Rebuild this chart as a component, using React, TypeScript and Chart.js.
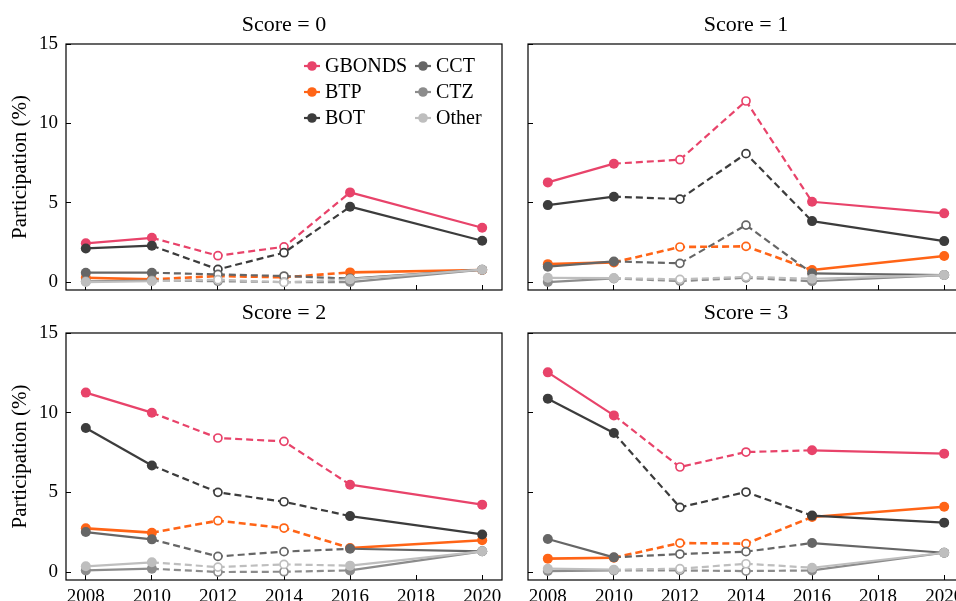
import React, { useEffect, useRef } from "react";
import { Chart, registerables } from "chart.js";

Chart.register(...registerables);

// ---------- data ----------
const years = [2008, 2010, 2012, 2014, 2016, 2020];
const xTicks = [2008, 2010, 2012, 2014, 2016, 2018, 2020];
const yTicks = [0, 5, 10, 15];
const hollowYears = [2012, 2014];
const dashedFrom = 2010;
const dashedTo = 2016;

const seriesNames = ["GBONDS", "BTP", "BOT", "CCT", "CTZ", "Other"];
const seriesColors = ["#E8436A", "#FF6416", "#3C3C3C", "#666666", "#8C8C8C", "#BEBEBE"];
const seriesWidths = [2.2, 2.6, 2.2, 2.2, 2.2, 2.2];

const panelTitles = ["Score = 0", "Score = 1", "Score = 2", "Score = 3"];
const yAxisLabel = "Participation (%)";

// Score = 0
const s0GBONDS = [2.44, 2.79, 1.66, 2.22, 5.65, 3.42];
const s0BTP = [0.27, 0.17, 0.38, 0.3, 0.61, 0.76];
const s0BOT = [2.12, 2.29, 0.8, 1.85, 4.75, 2.6];
const s0CCT = [0.59, 0.59, 0.48, 0.38, 0.22, 0.78];
const s0CTZ = [0.05, 0.1, 0.05, 0.0, 0.0, 0.78];
const s0Other = [0.0, 0.05, 0.15, -0.02, 0.18, 0.78];

// Score = 1
const s1GBONDS = [6.28, 7.46, 7.71, 11.41, 5.06, 4.33];
const s1BTP = [1.13, 1.24, 2.21, 2.25, 0.76, 1.64];
const s1BOT = [4.85, 5.38, 5.23, 8.09, 3.84, 2.58];
const s1CCT = [0.97, 1.3, 1.18, 3.59, 0.55, 0.44];
const s1CTZ = [0.0, 0.23, 0.06, 0.27, 0.05, 0.44];
const s1Other = [0.27, 0.25, 0.17, 0.33, 0.21, 0.44];

// Score = 2
const s2GBONDS = [11.26, 10.0, 8.41, 8.2, 5.48, 4.23];
const s2BTP = [2.74, 2.47, 3.22, 2.76, 1.51, 1.99];
const s2BOT = [9.04, 6.69, 5.0, 4.41, 3.51, 2.36];
const s2CCT = [2.51, 2.05, 0.98, 1.28, 1.46, 1.3];
const s2CTZ = [0.1, 0.21, 0.0, 0.02, 0.1, 1.3];
const s2Other = [0.36, 0.61, 0.31, 0.48, 0.4, 1.3];

// Score = 3
const s3GBONDS = [12.53, 9.83, 6.59, 7.53, 7.64, 7.43];
const s3BTP = [0.84, 0.9, 1.82, 1.78, 3.45, 4.1];
const s3BOT = [10.88, 8.72, 4.06, 5.02, 3.54, 3.1];
const s3CCT = [2.07, 0.92, 1.13, 1.28, 1.82, 1.21];
const s3CTZ = [0.06, 0.1, 0.1, 0.06, 0.1, 1.21];
const s3Other = [0.21, 0.15, 0.21, 0.52, 0.27, 1.21];

const panelValues = [
  [s0GBONDS, s0BTP, s0BOT, s0CCT, s0CTZ, s0Other],
  [s1GBONDS, s1BTP, s1BOT, s1CCT, s1CTZ, s1Other],
  [s2GBONDS, s2BTP, s2BOT, s2CCT, s2CTZ, s2Other],
  [s3GBONDS, s3BTP, s3BOT, s3CCT, s3CTZ, s3Other],
];

// ---------- layout ----------
const CANVAS_W = 1000;
const CANVAS_H = 640;
const FONT = "'Liberation Serif', 'DejaVu Serif', serif";
const TITLE_SIZE = 22;
const TITLE_LH = TITLE_SIZE * 1.2;
const panelBoxes = [
  { L: 66, T: 44, R: 502, B: 290, titleY: 25 },
  { L: 528, T: 44, R: 964, B: 290, titleY: 25 },
  { L: 66, T: 333, R: 502, B: 580, titleY: 313 },
  { L: 528, T: 333, R: 964, B: 580, titleY: 313 },
];
const X_AXIS_H = 30;

const framePlugin = {
  id: "frame",
  afterDraw(chart: any) {
    const { ctx, chartArea: a } = chart;
    ctx.save();
    ctx.strokeStyle = "#000";
    ctx.lineWidth = 1.2;
    ctx.strokeRect(a.left, a.top, a.right - a.left, a.bottom - a.top);
    ctx.restore();
  },
};

const legendPlugin = {
  id: "gridLegend",
  afterDraw(chart: any) {
    const { ctx, chartArea: a } = chart;
    const colX = [a.right - 190, a.right - 79];
    const rowY = [a.top + 22, a.top + 48, a.top + 74];
    ctx.save();
    ctx.font = `20px ${FONT}`;
    ctx.textBaseline = "middle";
    ctx.textAlign = "left";
    chart.data.datasets.forEach((ds: any, i: number) => {
      const cx = colX[Math.floor(i / 3)];
      const cy = rowY[i % 3];
      ctx.strokeStyle = ds.borderColor;
      ctx.lineWidth = 2.2;
      ctx.beginPath();
      ctx.moveTo(cx - 8, cy);
      ctx.lineTo(cx + 8, cy);
      ctx.stroke();
      ctx.fillStyle = ds.borderColor;
      ctx.beginPath();
      ctx.arc(cx, cy, 4.8, 0, Math.PI * 2);
      ctx.fill();
      ctx.fillStyle = "#000";
      ctx.fillText(ds.label, cx + 13, cy + 1);
    });
    ctx.restore();
  },
};

function buildConfig(p: number): any {
  const box = panelBoxes[p];
  const isLeft = p % 2 === 0;
  const isBottom = p >= 2;
  const datasets = seriesNames.map((name, i) => {
    const color = seriesColors[i];
    const hollow = years.map((y) => hollowYears.includes(y));
    return {
      label: name,
      data: years.map((x, k) => ({ x, y: panelValues[p][i][k] })),
      borderColor: color,
      backgroundColor: color,
      borderWidth: seriesWidths[i],
      tension: 0,
      order: seriesNames.length - i,
      pointRadius: hollow.map((h) => (h ? 4.0 : 5.0)),
      pointBorderWidth: hollow.map((h) => (h ? 1.7 : 0)),
      pointBackgroundColor: hollow.map((h) => (h ? "#ffffff" : color)),
      pointBorderColor: color,
      segment: {
        borderDash: (ctx: any) =>
          ctx.p0.parsed.x >= dashedFrom && ctx.p1.parsed.x <= dashedTo ? [7, 4] : undefined,
      },
    };
  });

  const titlePadTop = 4;
  const titleTop = box.titleY - TITLE_LH / 2 - titlePadTop;
  const titlePadBottom = box.T - box.titleY - TITLE_LH / 2;

  return {
    type: "line",
    data: { datasets },
    plugins: p === 0 ? [framePlugin, legendPlugin] : [framePlugin],
    options: {
      responsive: false,
      animation: false,
      devicePixelRatio: 1,
      events: [],
      layout: {
        padding: {
          left: 0,
          top: titleTop,
          right: CANVAS_W - box.R,
          bottom: CANVAS_H - box.B - X_AXIS_H,
        },
      },
      plugins: {
        legend: { display: false },
        tooltip: { enabled: false },
        title: {
          display: true,
          text: panelTitles[p],
          fullSize: false,
          color: "#000",
          font: { family: FONT, size: TITLE_SIZE, weight: "normal" },
          padding: { top: titlePadTop, bottom: titlePadBottom },
        },
      },
      scales: {
        x: {
          type: "linear",
          min: 2007.4,
          max: 2020.6,
          afterBuildTicks: (s: any) => {
            s.ticks = xTicks.map((v) => ({ value: v }));
          },
          afterFit: (s: any) => {
            s.height = X_AXIS_H;
          },
          ticks: {
            display: isBottom,
            autoSkip: false,
            maxRotation: 0,
            minRotation: 0,
            padding: 11,
            color: "#000",
            font: { family: FONT, size: 19 },
            callback: (v: any) => String(v),
          },
          grid: {
            drawOnChartArea: false,
            drawTicks: true,
            tickLength: -5,
            tickColor: "#000",
            tickWidth: 1,
          },
          border: { display: false },
        },
        y: {
          type: "linear",
          min: -0.5,
          max: 15,
          afterBuildTicks: (s: any) => {
            s.ticks = yTicks.map((v) => ({ value: v }));
          },
          afterFit: (s: any) => {
            s.width = box.L;
          },
          ticks: {
            display: isLeft,
            padding: 13,
            color: "#000",
            font: { family: FONT, size: 19 },
            callback: (v: any) => String(v),
          },
          grid: {
            drawOnChartArea: false,
            drawTicks: true,
            tickLength: -5,
            tickColor: "#000",
            tickWidth: 1,
          },
          border: { display: false },
          title: {
            display: isLeft,
            text: yAxisLabel,
            color: "#000",
            font: { family: FONT, size: 21 },
            padding: { top: 8, bottom: 0 },
          },
        },
      },
    },
  };
}

export default function App() {
  const refs = useRef<(HTMLCanvasElement | null)[]>([]);

  useEffect(() => {
    const charts = panelTitles.map((_, p) => {
      const canvas = refs.current[p]!;
      return new Chart(canvas, buildConfig(p));
    });
    return () => charts.forEach((c) => c.destroy());
  }, []);

  return (
    <div
      style={{
        position: "fixed",
        left: 0,
        top: 0,
        width: 956,
        height: 601,
        overflow: "hidden",
        background: "#ffffff",
      }}
    >
      {panelTitles.map((t, p) => (
        <canvas
          key={t}
          ref={(el) => {
            refs.current[p] = el;
          }}
          width={CANVAS_W}
          height={CANVAS_H}
          style={{ position: "absolute", left: 0, top: 0, width: CANVAS_W, height: CANVAS_H }}
        />
      ))}
    </div>
  );
}
